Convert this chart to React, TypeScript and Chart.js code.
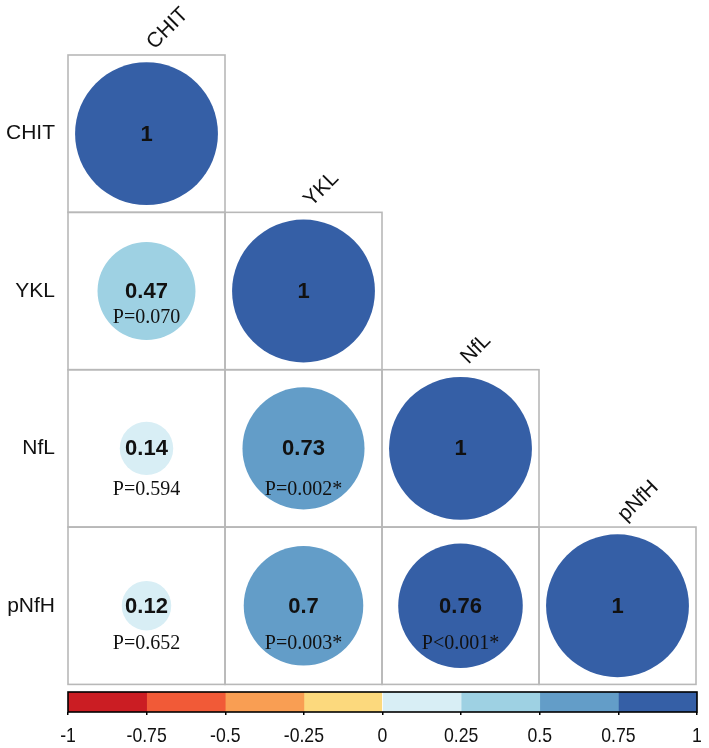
import React, { useEffect, useRef } from 'react';
import { Chart, registerables } from 'chart.js';

Chart.register(...registerables);

// ---- data ----
const variables = ['CHIT', 'YKL', 'NfL', 'pNfH'];
// lower-triangle correlation rows (row i, columns 0..i)
const rowCHIT = [1];
const rowYKL = [0.47, 1];
const rowNfL = [0.14, 0.73, 1];
const rowPNfH = [0.12, 0.7, 0.76, 1];
// p-value labels (off-diagonal only)
const pCHIT: string[] = [];
const pYKL = ['P=0.070'];
const pNfL = ['P=0.594', 'P=0.002*'];
const pPNfH = ['P=0.652', 'P=0.003*', 'P<0.001*'];
// colour scale
const colorBreaks = [-1, -0.75, -0.5, -0.25, 0, 0.25, 0.5, 0.75, 1];
const binColors = ['#CB1D23', '#F15A37', '#F99E53', '#FCD97D', '#D8EEF5', '#9ED1E3', '#639DC8', '#355FA6'];
const colorbarTicks = [-1, -0.75, -0.5, -0.25, 0, 0.25, 0.5, 0.75, 1];

const corrRows = [rowCHIT, rowYKL, rowNfL, rowPNfH];
const pRows = [pCHIT, pYKL, pNfL, pPNfH];

type Cell = { x: number; y: number; v: number; p: string | null };
const cells: Cell[] = [];
corrRows.forEach((row, i) =>
  row.forEach((v, j) => cells.push({ x: j, y: i, v, p: pRows[i][j] ?? null }))
);

const binColor = (v: number) => {
  let idx = Math.floor((v - colorBreaks[0]) / 0.25);
  idx = Math.max(0, Math.min(binColors.length - 1, idx));
  return binColors[idx];
};

const SANS = "'Liberation Sans', Arial, sans-serif";
const SERIF = "'Liberation Serif', 'Times New Roman', serif";
const pOffsets = [0, 27, 41, 38];

const gridPlugin = {
  id: 'cellGrid',
  beforeDatasetsDraw(chart: any) {
    const { ctx } = chart;
    const xs = chart.scales.x;
    const ys = chart.scales.y;
    ctx.save();
    ctx.strokeStyle = '#b8b8b8';
    ctx.lineWidth = 1.6;
    cells.forEach((c) => {
      const l = xs.getPixelForValue(c.x - 0.5);
      const r = xs.getPixelForValue(c.x + 0.5);
      const t = ys.getPixelForValue(c.y - 0.5);
      const b = ys.getPixelForValue(c.y + 0.5);
      ctx.strokeRect(l, t, r - l, b - t);
    });
    ctx.restore();
  },
  afterDatasetsDraw(chart: any) {
    const { ctx } = chart;
    const xs = chart.scales.x;
    const ys = chart.scales.y;
    ctx.save();
    ctx.fillStyle = '#111';
    ctx.textAlign = 'center';
    ctx.textBaseline = 'middle';
    cells.forEach((c) => {
      const cx = xs.getPixelForValue(c.x);
      const cy = ys.getPixelForValue(c.y);
      ctx.font = `bold 22px ${SANS}`;
      ctx.fillText(String(c.v), cx, cy + 1);
      if (c.p) {
        ctx.font = `20px ${SERIF}`;
        ctx.fillText(c.p, cx, cy + pOffsets[c.y]);
      }
    });
    // rotated column labels above the diagonal cells
    ctx.font = `21px ${SANS}`;
    ctx.textAlign = 'left';
    ctx.textBaseline = 'alphabetic';
    variables.forEach((name, i) => {
      const cx = xs.getPixelForValue(i);
      const top = ys.getPixelForValue(i - 0.5);
      ctx.save();
      ctx.translate(cx + 8, top - 5);
      ctx.rotate(-Math.PI / 4);
      ctx.fillText(name, 0, 0);
      ctx.restore();
    });
    ctx.restore();
  },
};

const colorbarPlugin = {
  id: 'barOutline',
  afterDatasetsDraw(chart: any) {
    const { ctx, chartArea } = chart;
    const xs = chart.scales.x;
    ctx.save();
    ctx.strokeStyle = '#000';
    ctx.lineWidth = 1.6;
    ctx.strokeRect(chartArea.left, chartArea.top, chartArea.right - chartArea.left, chartArea.bottom - chartArea.top);
    // tick labels in a condensed look
    ctx.fillStyle = '#111';
    ctx.font = `21px ${SANS}`;
    ctx.textAlign = 'center';
    ctx.textBaseline = 'middle';
    colorbarTicks.forEach((v) => {
      const px = xs.getPixelForValue(v);
      ctx.save();
      ctx.translate(px, chartArea.bottom + 24);
      ctx.scale(0.84, 1);
      ctx.fillText(String(v), 0, 0);
      ctx.restore();
    });
    ctx.restore();
  },
};

export default function App() {
  const mainRef = useRef<HTMLCanvasElement>(null);
  const barRef = useRef<HTMLCanvasElement>(null);

  useEffect(() => {
    const main = new Chart(mainRef.current as HTMLCanvasElement, {
      type: 'scatter',
      data: {
        datasets: [
          {
            data: cells.map((c) => ({ x: c.x, y: c.y })),
            pointRadius: (ctx: any) => {
              const c = cells[ctx.dataIndex];
              const sc = ctx.chart.scales.x;
              const cell = sc.getPixelForValue(1) - sc.getPixelForValue(0);
              return Math.sqrt(Math.abs(c.v)) * cell * 0.455;
            },
            pointHoverRadius: (ctx: any) => {
              const c = cells[ctx.dataIndex];
              const sc = ctx.chart.scales.x;
              const cell = sc.getPixelForValue(1) - sc.getPixelForValue(0);
              return Math.sqrt(Math.abs(c.v)) * cell * 0.455;
            },
            pointBackgroundColor: (ctx: any) => binColor(cells[ctx.dataIndex].v),
            pointBorderWidth: 0,
            pointHoverBorderWidth: 0,
          } as any,
        ],
      },
      options: {
        animation: false,
        responsive: false,
        layout: { padding: { left: 0, top: 55, right: 13, bottom: 7 } },
        plugins: { legend: { display: false }, tooltip: { enabled: false } },
        events: [],
        scales: {
          x: { type: 'linear', min: -0.5, max: 3.5, display: false },
          y: {
            type: 'linear',
            min: -0.5,
            max: 3.5,
            reverse: true,
            afterBuildTicks: (s: any) => {
              s.ticks = variables.map((_, i) => ({ value: i }));
            },
            afterFit: (s: any) => {
              s.width = 68;
            },
            ticks: {
              callback: (v: any) => variables[v] ?? '',
              font: { family: SANS, size: 21 },
              color: '#111',
              padding: 13,
            },
            grid: { display: false, drawTicks: false, tickLength: 0 },
            border: { display: false },
          },
        },
      } as any,
      plugins: [gridPlugin],
    });

    const bar = new Chart(barRef.current as HTMLCanvasElement, {
      type: 'bar',
      data: {
        labels: ['r'],
        datasets: binColors.map((c, i) => ({
          data: [[colorBreaks[i], colorBreaks[i + 1]]],
          backgroundColor: c,
          borderWidth: 0,
          grouped: false,
          barPercentage: 1,
          categoryPercentage: 1,
        })) as any,
      },
      options: {
        animation: false,
        responsive: false,
        indexAxis: 'y',
        layout: { padding: { left: 68, right: 12, top: 9, bottom: 0 } },
        plugins: { legend: { display: false }, tooltip: { enabled: false } },
        events: [],
        scales: {
          x: {
            type: 'linear',
            min: -1,
            max: 1,
            afterBuildTicks: (s: any) => {
              s.ticks = colorbarTicks.map((v) => ({ value: v }));
            },
            afterFit: (s: any) => {
              s.height = 36;
            },
            ticks: {
              callback: () => '',
              padding: 0,
              maxRotation: 0,
              autoSkip: false,
            },
            grid: { display: true, drawOnChartArea: false, drawTicks: true, tickLength: 3, color: '#000', lineWidth: 1.5 },
            border: { display: false },
          },
          y: { display: false },
        },
      } as any,
      plugins: [colorbarPlugin],
    });

    return () => {
      main.destroy();
      bar.destroy();
    };
  }, []);

  return (
    <div style={{ position: 'absolute', left: 0, top: 0, width: 709, height: 748, background: '#fff' }}>
      <canvas ref={mainRef} width={709} height={710} style={{ position: 'absolute', left: 0, top: 0, width: 709, height: 710 }} />
      <canvas ref={barRef} width={709} height={65} style={{ position: 'absolute', left: 0, top: 683, width: 709, height: 65 }} />
    </div>
  );
}
